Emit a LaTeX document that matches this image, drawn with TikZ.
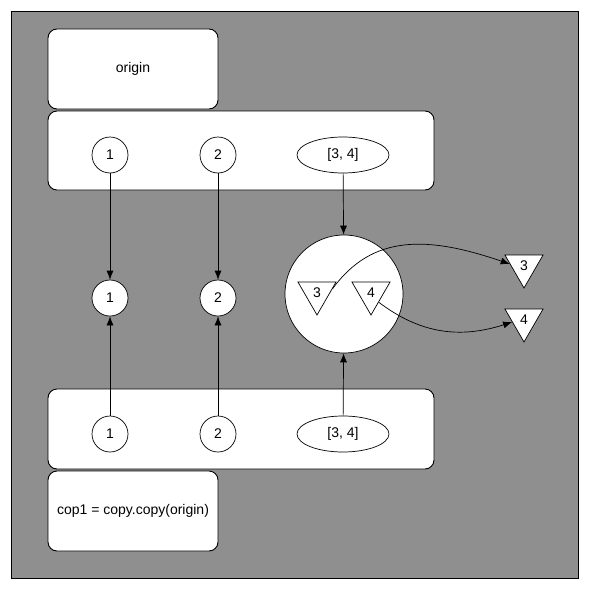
\documentclass[tikz,border=0pt]{standalone}
\usepackage{fontspec}
\setmainfont{Liberation Sans}
\usetikzlibrary{arrows.meta,shapes.geometric}
\definecolor{bggray}{HTML}{8F8F8F}
\begin{document}
\begin{tikzpicture}[x=1pt,y=-1pt,
  every node/.style={font=\fontsize{14}{16}\selectfont},
  box/.style={draw,fill=white,rounded corners=9pt,line width=0.9pt},
  num/.style={draw,fill=white,circle,minimum size=36pt,inner sep=0pt,line width=0.7pt},
  lst/.style={draw,fill=white,ellipse,minimum width=92pt,minimum height=36pt,inner sep=0pt,line width=0.7pt},
  tri/.style={draw,fill=white,regular polygon,regular polygon sides=3,shape border rotate=180,minimum size=44pt,inner sep=0pt,line width=0.7pt},
  arr/.style={-{Latex[length=9pt,width=7pt]},line width=0.7pt}]
\useasboundingbox (0,0) rectangle (589,589);
\fill[white] (0,0) rectangle (589,589);
\draw[fill=bggray,line width=0.9pt] (11,11) rectangle (578,578);
% boxes
\node[box,minimum width=170pt,minimum height=80pt] (origin) at (133,69) {origin};
\draw[box] (48,111) rectangle (434,190);
\draw[box] (48,389) rectangle (434,469);
\node[box,minimum width=170pt,minimum height=80pt] (cop) at (133,511) {cop1 = copy.copy(origin)};
% top row
\node[num] (a1) at (110,155) {1};
\node[num] (a2) at (218,155) {2};
\node[lst] (al) at (343,155) {[3, 4]};
% middle row
\node[num] (m1) at (110,298) {1};
\node[num] (m2) at (218,298) {2};
\node[draw,fill=white,circle,minimum size=118pt,inner sep=0pt,line width=0.7pt] (big) at (344,294) {};
\node[tri] (t3) at (317,293) {3};
\node[tri] (t4) at (371,293) {4};
\node[tri] (r3) at (524,266) {3};
\node[tri] (r4) at (524,320) {4};
% bottom row
\node[num] (b1) at (110,434) {1};
\node[num] (b2) at (218,434) {2};
\node[lst] (bl) at (343,434) {[3, 4]};
% connectors
\draw[arr] (a1) -- (m1);
\draw[arr] (a2) -- (m2);
\draw[arr] (al) -- (big);
\draw[arr] (b1) -- (m1);
\draw[arr] (b2) -- (m2);
\draw[arr] (bl) -- (big);
\draw[arr] (t3.15) .. controls +(40,-55) and +(-82,-28) .. (r3.172);
\draw[arr] (t4.-50) .. controls +(41,31) and +(-53,17) .. (r4.-170);
\end{tikzpicture}
\end{document}
